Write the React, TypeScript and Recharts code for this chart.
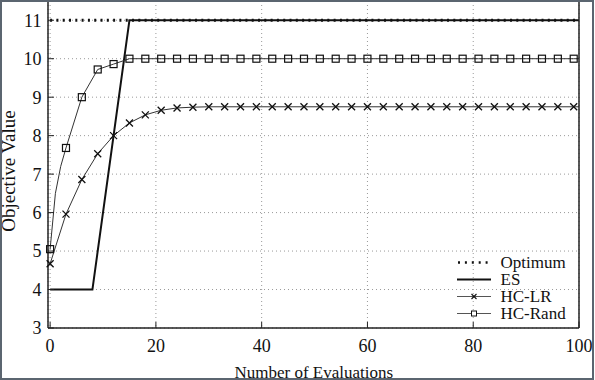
import React from "react";
import { CartesianGrid, Legend, Line, LineChart, XAxis, YAxis } from "recharts";

const FONT = '"Liberation Serif", "Times New Roman", serif';
const INK = "#111";
const FRAME = "#222";

const EVAL_TICKS = [0, 20, 40, 60, 80, 100];
const VALUE_TICKS = [3, 4, 5, 6, 7, 8, 9, 10, 11];
const SERIES_ORDER = ["Optimum", "ES", "HC-LR", "HC-Rand"];

const OPTIMUM_EVALS = [0, 100];
const OPTIMUM_VALUES = [11, 11];

const ES_EVALS = [0, 8, 15, 100];
const ES_VALUES = [4, 4, 11, 11];

const HC_LR_EVALS = [
  0, 3, 6, 9, 12, 15, 18, 21, 24, 27, 30, 33, 36, 39, 42, 45, 48, 51, 54, 57,
  60, 63, 66, 69, 72, 75, 78, 81, 84, 87, 90, 93, 96, 99, 100,
];
const HC_LR_VALUES = [
  4.67, 5.96, 6.86, 7.53, 8.0, 8.33, 8.54, 8.66, 8.72, 8.74, 8.75, 8.75, 8.75,
  8.75, 8.75, 8.75, 8.75, 8.75, 8.75, 8.75, 8.75, 8.75, 8.75, 8.75, 8.75, 8.75,
  8.75, 8.75, 8.75, 8.75, 8.75, 8.75, 8.75, 8.75, 8.75,
];

const HC_RAND_EVALS = [
  0, 1, 2, 3, 6, 9, 12, 15, 18, 21, 24, 27, 30, 33, 36, 39, 42, 45, 48, 51, 54,
  57, 60, 63, 66, 69, 72, 75, 78, 81, 84, 87, 90, 93, 96, 99, 100,
];
const HC_RAND_VALUES = [
  5.05, 6.5, 7.2, 7.68, 9.0, 9.72, 9.86, 10.0, 10.0, 10.0, 10.0, 10.0, 10.0,
  10.0, 10.0, 10.0, 10.0, 10.0, 10.0, 10.0, 10.0, 10.0, 10.0, 10.0, 10.0, 10.0,
  10.0, 10.0, 10.0, 10.0, 10.0, 10.0, 10.0, 10.0, 10.0, 10.0, 10.0,
];

const toPoints = (xs: number[], ys: number[]) =>
  xs.map((x, i) => ({ x, y: ys[i] }));

const crossPath = (cx: number, cy: number, r: number) =>
  `M${cx - r},${cy - r}L${cx + r},${cy + r}M${cx - r},${cy + r}L${cx + r},${cy - r}`;

// markers only every 3 evaluations, like the original plot
const crossDot = (p: any) => {
  if (p.payload.x % 3 !== 0) return <g key={p.index} />;
  return (
    <path key={p.index} d={crossPath(p.cx, p.cy, 3.5)} stroke={INK} strokeWidth={1.3} fill="none" />
  );
};

const squareDot = (p: any) => {
  if (p.payload.x % 3 !== 0) return <g key={p.index} />;
  return (
    <rect key={p.index} x={p.cx - 3.5} y={p.cy - 3.5} width={7} height={7} stroke={INK} strokeWidth={1.2} fill="none" />
  );
};

const emptyTick = () => <g />;

const SAMPLES: Record<string, (w: number, h: number) => React.ReactNode> = {
  Optimum: (w, h) => (
    <line x1={1} x2={w} y1={h / 2} y2={h / 2} stroke={INK} strokeWidth={2.5} strokeDasharray="2 4.9" />
  ),
  ES: (w, h) => <line x1={0} x2={w} y1={h / 2} y2={h / 2} stroke={INK} strokeWidth={2} />,
  "HC-LR": (w, h) => (
    <g>
      <line x1={0} x2={w} y1={h / 2} y2={h / 2} stroke="#555" strokeWidth={1} />
      <path d={crossPath(w / 2, h / 2, 2.5)} stroke={INK} strokeWidth={1.1} fill="none" />
    </g>
  ),
  "HC-Rand": (w, h) => (
    <g>
      <line x1={0} x2={w} y1={h / 2} y2={h / 2} stroke="#555" strokeWidth={1} />
      <rect x={w / 2 - 2.5} y={h / 2 - 2.5} width={5} height={5} stroke={INK} strokeWidth={1} fill="white" />
    </g>
  ),
};

const renderLegend = (props: any) => {
  const names = (props.payload || []).map((e: any) => e.value);
  const ordered = SERIES_ORDER.filter((n) => names.includes(n));
  return (
    <div style={{ fontFamily: FONT, fontSize: 17, color: INK }}>
      {ordered.map((name) => (
        <div key={name} style={{ display: "flex", alignItems: "center", height: 17.1, lineHeight: "17.1px" }}>
          <svg width={34} height={17} style={{ display: "block", flex: "none" }}>
            {SAMPLES[name]?.(34, 17)}
          </svg>
          <span style={{ marginLeft: 9.5, fontFamily: FONT, whiteSpace: "nowrap" }}>{name}</span>
        </div>
      ))}
    </div>
  );
};

const tickStyle = { fontSize: 18, fill: INK, fontFamily: FONT };

export default function App() {
  return (
    <div
      style={{
        position: "absolute",
        left: 0,
        top: 0,
        width: 595,
        height: 380,
        background: "#fff",
        fontFamily: FONT,
      }}
    >
      <LineChart
        width={595}
        height={380}
        margin={{ top: 0, right: 15, bottom: 0, left: 0 }}
        style={{ fontFamily: FONT }}
      >
        <CartesianGrid stroke="#9a9a9a" strokeDasharray="1 3" />
        <XAxis
          dataKey="x"
          type="number"
          domain={[-0.4, 100]}
          ticks={EVAL_TICKS}
          interval={0}
          height={52}
          tickSize={-6}
          tickMargin={17.5}
          axisLine={{ stroke: FRAME, strokeWidth: 1.5 }}
          tickLine={{ stroke: FRAME }}
          tick={tickStyle}
          label={{
            content: () => (
              <text x={313.8} y={378} textAnchor="middle" fontSize={17} fill={INK} fontFamily={FONT}>
                Number of Evaluations
              </text>
            ),
          }}
        />
        <XAxis
          xAxisId="top"
          orientation="top"
          type="number"
          domain={[-0.4, 100]}
          ticks={EVAL_TICKS}
          interval={0}
          height={1}
          tickSize={-6}
          axisLine={{ stroke: FRAME, strokeWidth: 1.5 }}
          tickLine={{ stroke: FRAME }}
          tick={emptyTick}
        />
        <YAxis
          type="number"
          domain={[3, 11.5]}
          ticks={VALUE_TICKS}
          interval={0}
          width={48}
          tickSize={-6}
          tickMargin={12.6}
          axisLine={{ stroke: FRAME, strokeWidth: 1.5 }}
          tickLine={{ stroke: FRAME }}
          tick={tickStyle}
          label={{
            content: () => (
              <text transform="translate(15,171) rotate(-90)" textAnchor="middle" fontSize={19} fill={INK} fontFamily={FONT}>
                Objective Value
              </text>
            ),
          }}
        />
        <YAxis
          yAxisId="right"
          orientation="right"
          type="number"
          domain={[3, 11.5]}
          ticks={VALUE_TICKS}
          interval={0}
          width={1}
          tickSize={-6}
          axisLine={{ stroke: FRAME, strokeWidth: 1.5 }}
          tickLine={{ stroke: FRAME }}
          tick={emptyTick}
        />
        <Legend
          layout="vertical"
          align="center"
          verticalAlign="middle"
          wrapperStyle={{ left: 457, top: 254, width: 130 }}
          content={renderLegend}
        />
        <Line
          name="Optimum"
          data={toPoints(OPTIMUM_EVALS, OPTIMUM_VALUES)}
          dataKey="y"
          stroke={INK}
          strokeWidth={3}
          strokeDasharray="2 4.3"
          dot={false}
          activeDot={false}
          isAnimationActive={false}
        />
        <Line
          name="ES"
          data={toPoints(ES_EVALS, ES_VALUES)}
          dataKey="y"
          stroke={INK}
          strokeWidth={2}
          dot={false}
          activeDot={false}
          isAnimationActive={false}
        />
        <Line
          name="HC-LR"
          data={toPoints(HC_LR_EVALS, HC_LR_VALUES)}
          dataKey="y"
          stroke="#333"
          strokeWidth={1}
          dot={crossDot}
          activeDot={false}
          isAnimationActive={false}
        />
        <Line
          name="HC-Rand"
          data={toPoints(HC_RAND_EVALS, HC_RAND_VALUES)}
          dataKey="y"
          stroke="#333"
          strokeWidth={1}
          dot={squareDot}
          activeDot={false}
          isAnimationActive={false}
        />
      </LineChart>
      <div
        style={{
          position: "absolute",
          left: 0,
          top: 0,
          width: 594,
          height: 380,
          boxSizing: "border-box",
          border: "2px solid #5b6570",
          pointerEvents: "none",
        }}
      />
    </div>
  );
}
